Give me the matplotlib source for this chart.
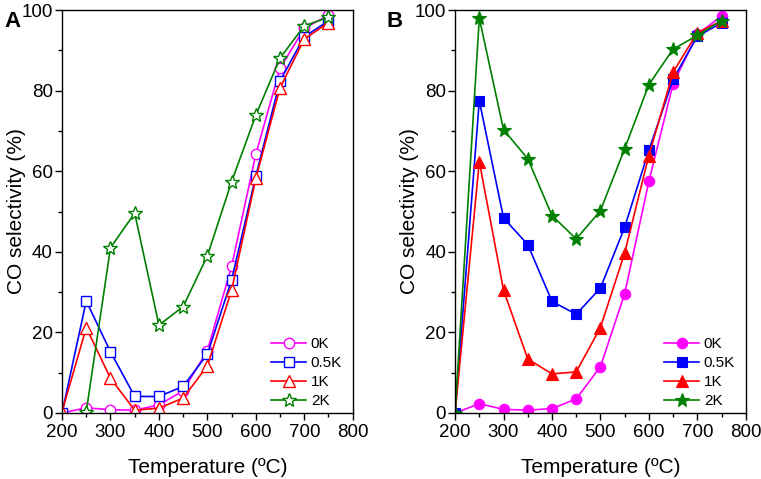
import matplotlib
matplotlib.use("Agg")
import matplotlib.pyplot as plt
from matplotlib.ticker import MultipleLocator

plt.rcParams['font.family'] = ['Liberation Sans', 'DejaVu Sans']

temps = [200, 250, 300, 350, 400, 450, 500, 550, 600, 650, 700, 750]
temps_2k_a = temps[1:]

# panel A
a_0k = [0, 1.3, 0.8, 0.7, 2.0, 5.5, 15.5, 36.4, 64.2, 85.5, 95.5, 98.7]
a_05k = [0, 27.8, 15.2, 4.1, 4.1, 6.6, 14.6, 33.0, 58.8, 82.4, 93.4, 97.3]
a_1k = [0.3, 21.2, 8.6, 0.7, 1.2, 3.7, 11.7, 30.5, 58.2, 80.7, 92.8, 96.9]
a_2k = [0.3, 41.0, 49.6, 21.8, 26.4, 39.0, 57.4, 73.9, 88.1, 96.1, 98.2]

# panel B
b_0k = [0, 2.3, 0.9, 0.7, 1.1, 3.5, 11.5, 29.6, 57.5, 81.7, 94.0, 98.5]
b_05k = [0, 77.5, 48.4, 41.8, 27.7, 24.5, 31.0, 46.1, 65.2, 82.8, 93.5, 96.8]
b_1k = [0, 62.4, 30.5, 13.4, 9.7, 10.2, 21.2, 39.7, 63.9, 84.6, 94.4, 97.3]
b_2k = [0, 98.0, 70.3, 63.1, 49.0, 43.2, 50.2, 65.6, 81.5, 90.3, 93.7, 97.4]

labels = ["0K", "0.5K", "1K", "2K"]
colors = ["#ff00ff", "#0000ff", "#ff0000", "#008000"]
markers = ["o", "s", "^", "*"]
msizes = [7.5, 7.2, 8.5, 10]

fig = plt.figure(figsize=(7.61, 4.79), dpi=100)
ax_a = fig.add_axes([0.0815, 0.1378, 0.382, 0.8412])
ax_b = fig.add_axes([0.598, 0.1378, 0.382, 0.8412])

series_a = [(temps, a_0k), (temps, a_05k), (temps, a_1k), (temps_2k_a, a_2k)]
series_b = [(temps, b_0k), (temps, b_05k), (temps, b_1k), (temps, b_2k)]

for ax, series, hollow in [(ax_a, series_a, True), (ax_b, series_b, False)]:
    for (x, y), lab, c, m, ms in zip(series, labels, colors, markers, msizes):
        ax.plot(x, y, color=c, marker=m, markersize=ms, linewidth=1.2,
                markerfacecolor="white" if hollow else c,
                markeredgecolor=c, markeredgewidth=1.0 if hollow else 0.8,
                label=lab)
    ax.set_xlim(200, 800)
    ax.set_ylim(0, 100)
    ax.xaxis.set_major_locator(MultipleLocator(100))
    ax.xaxis.set_minor_locator(MultipleLocator(50))
    ax.yaxis.set_major_locator(MultipleLocator(20))
    ax.yaxis.set_minor_locator(MultipleLocator(10))
    ax.tick_params(which="both", direction="out", labelsize=13.5)
    ax.tick_params(which="major", length=5, width=1)
    ax.tick_params(which="minor", length=3, width=1)
    ax.tick_params(axis="x", which="major", pad=3)
    ax.tick_params(axis="y", which="major", pad=1.5)
    for sp in ax.spines.values():
        sp.set_linewidth(1.0)
    ax.set_xlabel("Temperature (ºC)", fontsize=15, labelpad=12)
    ax.set_ylabel("CO selectivity (%)", fontsize=15, labelpad=-3)
    ax.legend(loc="lower right", frameon=False, fontsize=11,
              handlelength=2.3, handletextpad=0.3, labelspacing=0.33,
              borderaxespad=0.3, bbox_to_anchor=(1.0, -0.015))

fig.text(0.006, 0.978, "A", fontsize=16, fontweight="bold", va="top")
fig.text(0.508, 0.978, "B", fontsize=16, fontweight="bold", va="top")

fig.savefig("out.png", dpi=100)
